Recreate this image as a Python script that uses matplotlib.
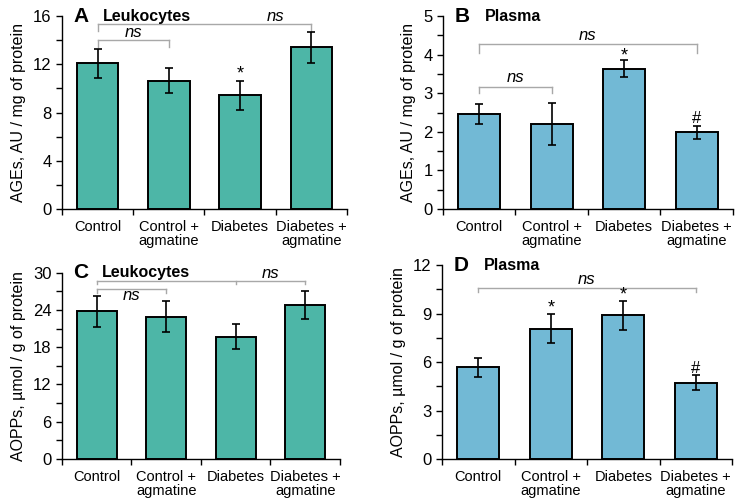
import numpy as np
import matplotlib
matplotlib.use("Agg")
import matplotlib.pyplot as plt
from matplotlib.ticker import MultipleLocator, FixedLocator, NullFormatter

plt.rcParams["font.family"] = ["Liberation Sans", "DejaVu Sans"]

# -------------------------------
# Data
# -------------------------------
groups = ["Control", "Control +\nagmatine", "Diabetes", "Diabetes +\nagmatine"]

ages_leuko = [12.1, 10.65, 9.45, 13.4]
ages_leuko_err = [1.2, 1.0, 1.2, 1.3]

ages_plasma = [2.46, 2.2, 3.64, 1.99]
ages_plasma_err = [0.26, 0.55, 0.22, 0.17]

aopp_leuko = [23.8, 22.9, 19.7, 24.85]
aopp_leuko_err = [2.5, 2.5, 2.0, 2.25]

aopp_plasma = [5.67, 8.06, 8.89, 4.72]
aopp_plasma_err = [0.6, 0.9, 0.9, 0.47]

teal = "#4db6a7"
blue = "#72b9d5"
gray = "#a8a8a8"


def bracket(ax, xs, y, drop):
    # horizontal line with small downward ticks at each x
    ax.plot([xs[0], xs[-1]], [y, y], color=gray, lw=1, clip_on=False)
    for x in xs:
        ax.plot([x, x], [y, y - drop], color=gray, lw=1, clip_on=False)


def panel(rect, vals, errs, color, ymax, ystep, ylabel, letter, title):
    ax = fig.add_axes(rect)
    x = np.arange(len(groups))
    ax.bar(x, vals, width=0.58, color=color, edgecolor="black", linewidth=1.4, zorder=2)
    ax.errorbar(x, vals, yerr=errs, fmt="none", ecolor="black", elinewidth=1.2,
                capsize=3, capthick=1.2, zorder=3)
    ax.set_xlim(-0.5, 3.5)
    ax.set_ylim(0, ymax)
    ax.spines["top"].set_visible(False)
    ax.spines["right"].set_visible(False)
    ax.spines["left"].set_linewidth(1)
    ax.spines["bottom"].set_linewidth(1)
    ax.set_yticks(np.arange(0, ymax + 0.01, ystep))
    ax.yaxis.set_minor_locator(MultipleLocator(ystep / 2))
    ax.tick_params(axis="y", which="both", direction="out", length=4, width=1, labelsize=12)
    ax.xaxis.set_major_locator(FixedLocator([-0.5, 0.5, 1.5, 2.5, 3.5]))
    ax.xaxis.set_major_formatter(NullFormatter())
    ax.xaxis.set_minor_locator(FixedLocator(x))
    ax.set_xticklabels(groups, minor=True)
    ax.tick_params(axis="x", which="major", direction="out", length=4, width=1)
    ax.tick_params(axis="x", which="minor", length=0, labelsize=10.5, pad=8)
    for lab in ax.get_xticklabels(minor=True):
        lab.set_linespacing(0.95)
    ax.set_ylabel(ylabel, fontsize=11.5, labelpad=5)
    ax.text(0.04, 1.0, letter, transform=ax.transAxes, fontsize=15, fontweight="bold",
            va="center", ha="left")
    ax.text(0.145, 1.0, title, transform=ax.transAxes, fontsize=11.5, fontweight="bold",
            va="center", ha="left")
    return ax


fig = plt.figure(figsize=(7.43, 5.01), dpi=100)

# -------------------------------
# A: AGEs leukocytes
# -------------------------------
axA = panel([0.0834, 0.5828, 0.3836, 0.3852], ages_leuko, ages_leuko_err, teal, 16, 4,
            "AGEs, AU / mg of protein", "A", "Leukocytes")
bracket(axA, [0, 3], 15.3, 0.55)
bracket(axA, [0, 1], 14.0, 0.55)
axA.text(2.5, 15.95, "ns", style="italic", fontsize=12, ha="center", va="center")
axA.text(0.5, 14.6, "ns", style="italic", fontsize=12, ha="center", va="center")
axA.text(2, 11.2, "*", fontsize=13, ha="center", va="center")

# -------------------------------
# B: AGEs plasma
# -------------------------------
axB = panel([0.5962, 0.5828, 0.3903, 0.3852], ages_plasma, ages_plasma_err, blue, 5, 1,
            "AGEs, AU / mg of protein", "B", "Plasma")
bracket(axB, [0, 3], 4.27, 0.22)
bracket(axB, [0, 1], 3.16, 0.16)
axB.text(1.5, 4.5, "ns", style="italic", fontsize=12, ha="center", va="center")
axB.text(0.5, 3.4, "ns", style="italic", fontsize=12, ha="center", va="center")
axB.text(2, 3.97, "*", fontsize=13, ha="center", va="center")
axB.text(3, 2.35, "#", fontsize=12, ha="center", va="center")

# -------------------------------
# C: AOPPs leukocytes
# -------------------------------
axC = panel([0.0834, 0.0838, 0.3742, 0.3719], aopp_leuko, aopp_leuko_err, teal, 30, 6,
            "AOPPs, \u00b5mol / g of protein", "C", "Leukocytes")
bracket(axC, [0, 2, 3], 28.7, 0.6)
bracket(axC, [0, 1], 27.3, 0.6)
axC.text(2.5, 29.9, "ns", style="italic", fontsize=12, ha="center", va="center")
axC.text(0.5, 26.4, "ns", style="italic", fontsize=12, ha="center", va="center")

# -------------------------------
# D: AOPPs plasma
# -------------------------------
axD = panel([0.5949, 0.0838, 0.3903, 0.3872], aopp_plasma, aopp_plasma_err, blue, 12, 3,
            "AOPPs, \u00b5mol / g of protein", "D", "Plasma")
bracket(axD, [0, 3], 10.6, 0.27)
axD.text(1.5, 11.1, "ns", style="italic", fontsize=12, ha="center", va="center")
axD.text(1, 9.35, "*", fontsize=13, ha="center", va="center")
axD.text(2, 10.15, "*", fontsize=13, ha="center", va="center")
axD.text(3, 5.6, "#", fontsize=12, ha="center", va="center")

fig.savefig("out.png", dpi=100)
